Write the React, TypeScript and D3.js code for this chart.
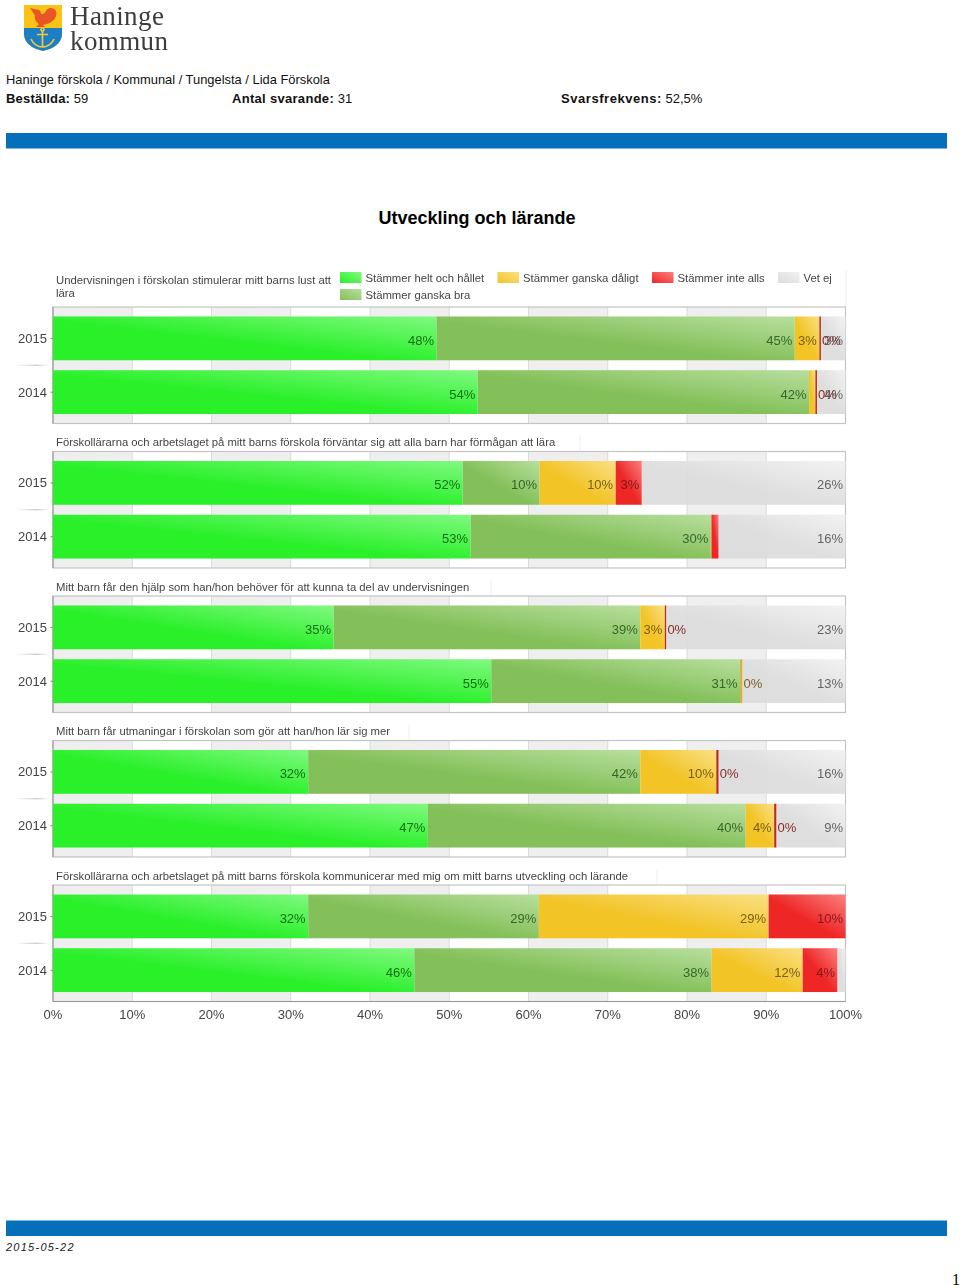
import React from "react";
import * as d3 from "d3";

const years = ["2015", "2014"];

const questions = [
  ["Undervisningen i förskolan stimulerar mitt barns lust att", "lära"],
  ["Förskollärarna och arbetslaget på mitt barns förskola förväntar sig att alla barn har förmågan att lära"],
  ["Mitt barn får den hjälp som han/hon behöver för att kunna ta del av undervisningen"],
  ["Mitt barn får utmaningar i förskolan som gör att han/hon lär sig mer"],
  ["Förskollärarna och arbetslaget på mitt barns förskola kommunicerar med mig om mitt barns utveckling och lärande"],
];

const seriesNames = ["Stämmer helt och hållet", "Stämmer ganska bra", "Stämmer ganska dåligt", "Stämmer inte alls", "Vet ej"];

// one value per row: question 1 2015, question 1 2014, question 2 2015, ...
const heltOchHallet = [48.4, 53.6, 51.7, 52.7, 35.4, 55.3, 32.2, 47.3, 32.2, 45.6];
const ganskaBra = [45.2, 41.8, 9.7, 30.3, 38.7, 31.4, 41.9, 40.1, 29.1, 37.5];
const ganskaDaligt = [3.1, 0.8, 9.6, 0.1, 3.1, 0.3, 9.6, 3.6, 29.0, 11.5];
const inteAlls = [0.2, 0.2, 3.3, 0.9, 0.2, 0, 0.3, 0.3, 9.7, 4.4];
const vetEj = [3.1, 3.6, 25.7, 16.0, 22.6, 13.0, 16.0, 8.7, 0, 1.0];

// segments that carry no value label: "row:series"
const unlabelled = ["1:2", "3:2", "3:3", "5:3", "8:4", "9:4"];

const xTicks = d3.range(0, 101, 10);

const colors = [
  { base: "#2af02a", light: "#80f980", thin: "#2af02a", text: "#0c5f0c" },
  { base: "#84c05a", light: "#b8df9e", thin: "#84c05a", text: "#2c5a20" },
  { base: "#f2c428", light: "#fae084", thin: "#dcae30", text: "#6e5210" },
  { base: "#ee2626", light: "#fb7f7f", thin: "#bc2c1c", text: "#7a1414" },
  { base: "#dcdcdc", light: "#f1f1f1", thin: "#dcdcdc", text: "#555555" },
];

const legendItems = [
  { series: 0, x: 340, y: 272 },
  { series: 1, x: 340, y: 289 },
  { series: 2, x: 497.5, y: 272 },
  { series: 3, x: 652, y: 272 },
  { series: 4, x: 778, y: 272 },
];

const titleEnds = [846, 580, 491, 409, 657];

const textCol = "#444444";
const sans = "'Liberation Sans', Arial, sans-serif";

const rows = heltOchHallet.map((_, i) => ({
  s0: heltOchHallet[i],
  s1: ganskaBra[i],
  s2: ganskaDaligt[i],
  s3: inteAlls[i],
  s4: vetEj[i],
}));
const stacked = d3.stack<any>().keys(["s0", "s1", "s2", "s3", "s4"])(rows);

const x = d3.scaleLinear().domain([0, 100]).range([53, 845.5]);
const panelY = d3
  .scaleBand<number>()
  .domain(d3.range(questions.length))
  .range([307, 1001.5])
  .paddingInner(0.194);
const yearY = d3
  .scaleBand<string>()
  .domain(years)
  .range([0, panelY.bandwidth()])
  .paddingInner(0.185)
  .paddingOuter(0.176);

const Logo = () => (
  <g filter="url(#soft)">
    <path d="M24 5H62V34C62 44 52 49 43 51C34 49 24 44 24 34Z" fill="#fbc312" />
    <path d="M24 28H62V34C62 44 52 49 43 51C34 49 24 44 24 34Z" fill="#1f7fc4" />
    <path
      d="M30 8L36 9.5C39 9 41 11 41 13.5C43 15 45 13 47 9.5C49 7 54 7.5 56 11C57.5 15 55 20 51 22C48 24 45 24 43 25L45 27H36L39 24C36 22 34 19 35 15.5Z"
      fill="#ea5526"
    />
    <g stroke="#f2c83a" strokeWidth={1.7} fill="none">
      <circle cx={42.5} cy={29.5} r={1.5} />
      <path d="M42.5 31V47M37 34.5H48M31 39C33 44 38 47 42.5 47C47 47 52 44 54 39" />
    </g>
    <text fontFamily="'Liberation Serif', serif" fontSize={27} fill="#3d3d3d" letterSpacing={0.4}>
      <tspan x={70} y={25}>Haninge</tspan>
      <tspan x={70} y={49.5}>kommun</tspan>
    </text>
  </g>
);

const Header = () => (
  <g fontFamily={sans} fontSize={13} fill="#111">
    <text x={6} y={84} fontSize={12.9}>Haninge förskola / Kommunal / Tungelsta / Lida Förskola</text>
    <text x={6} y={103}>
      <tspan fontWeight="bold" letterSpacing={0.2}>Beställda:</tspan> 59
    </text>
    <text x={232} y={103}>
      <tspan fontWeight="bold" letterSpacing={0.3}>Antal svarande:</tspan> 31
    </text>
    <text x={561} y={103}>
      <tspan fontWeight="bold" letterSpacing={0.55}>Svarsfrekvens:</tspan> 52,5%
    </text>
    <rect x={6} y={133} width={941} height={15.5} fill="#0570b9" />
    <text x={477} y={224} textAnchor="middle" fontSize={18} fontWeight="bold" fill="#000">
      Utveckling och lärande
    </text>
    <rect x={6} y={1220.5} width={941} height={15.5} fill="#0570b9" />
    <text x={6} y={1251} fontSize={11} fontStyle="italic" letterSpacing={1.25} fill="#222">
      2015-05-22
    </text>
    <text x={952} y={1285} fontFamily="'Liberation Serif', serif" fontSize={16} fill="#000">
      1
    </text>
  </g>
);

const Panel = ({ index }: { index: number }) => {
  const top = panelY(index)!;
  const h = panelY.bandwidth();
  return (
    <g>
      {xTicks.slice(0, -1).map((t, i) =>
        i % 2 === 0 ? (
          <rect key={t} x={x(t)} y={top} width={x(t + 10) - x(t)} height={h} fill="#efefef" />
        ) : null
      )}
      {xTicks.map((t) => (
        <line key={t} x1={x(t)} x2={x(t)} y1={top} y2={top + h} stroke="#d4d4d4" strokeWidth={0.8} />
      ))}
      <rect x={x(0)} y={top} width={x(100) - x(0)} height={h} fill="none" stroke="#c4c4c4" strokeWidth={1.2} />
      <line x1={x(0)} x2={x(0)} y1={top} y2={top + h} stroke="#a9a9a9" strokeWidth={1.4} />
      {years.map((year, j) => {
        const row = index * 2 + j;
        const by = top + yearY(year)!;
        const bh = yearY.bandwidth();
        return (
          <g key={year}>
            <text x={47} y={by + 26.5} textAnchor="end" fontSize={13} fill={textCol}>
              {year}
            </text>
            <line x1={50.5} x2={53} y1={by + 22} y2={by + 22} stroke="#888" />
            {stacked.map((layer, s) => {
              const [a, b] = layer[row];
              const w = x(b) - x(a);
              return b > a ? (
                <rect
                  key={s}
                  x={x(a)}
                  y={by}
                  width={w}
                  height={bh}
                  fill={w < 4 ? colors[s].thin : `url(#seg${s})`}
                  fillOpacity={s === 4 ? 0.93 : 1}
                />
              ) : null;
            })}
            {stacked.map((layer, s) => {
              const [a, b] = layer[row];
              if (unlabelled.includes(`${row}:${s}`)) return null;
              const w = x(b) - x(a);
              const narrow = w < 22;
              return (
                <text
                  key={s}
                  x={narrow ? x(b) + 1 : x(b) - 2.5}
                  y={by + bh / 2 + 6.5}
                  textAnchor={narrow ? "start" : "end"}
                  fontSize={13}
                  fill={colors[s].text}
                  fillOpacity={0.9}
                >
                  {`${Math.round(+(b - a).toFixed(1))}%`}
                </text>
              );
            })}
          </g>
        );
      })}
      {/* faint mark the source image has between the two years */}
      <rect x={15} y={top + h / 2 - 0.5} width={34} height={1} fill="url(#yearMark)" />
    </g>
  );
};

export default function App() {
  const lastBottom = panelY(questions.length - 1)! + panelY.bandwidth();
  return (
    <svg
      width={960}
      height={1288}
      style={{ position: "absolute", left: 0, top: 0, display: "block" }}
      fontFamily={sans}
    >
      <defs>
        <filter id="soft" x="-5%" y="-5%" width="110%" height="110%">
          <feGaussianBlur stdDeviation={0.35} />
        </filter>
        <linearGradient id="yearMark">
          <stop offset="0%" stopColor="#ffffff" />
          <stop offset="65%" stopColor="#bbbbbb" />
          <stop offset="100%" stopColor="#ffffff" />
        </linearGradient>
        {colors.map((c, i) => (
          <linearGradient key={i} id={`seg${i}`} x1={0} y1={1} x2={1} y2={0}>
            <stop offset="0%" stopColor={c.base} />
            <stop offset="45%" stopColor={c.base} />
            <stop offset="100%" stopColor={c.light} />
          </linearGradient>
        ))}
        {colors.map((c, i) => (
          <linearGradient key={i} id={`leg${i}`} x1={0} y1={1} x2={1} y2={0}>
            <stop offset="0%" stopColor={c.base} />
            <stop offset="100%" stopColor={c.light} />
          </linearGradient>
        ))}
      </defs>
      <Logo />
      <Header />

      <g filter="url(#soft)">
        {questions.map((lines, q) => {
          const top = panelY(q)!;
          return (
            <g key={q}>
              {lines.map((line, l) => (
                <text
                  key={l}
                  x={56}
                  y={top - (q === 0 ? 10 : 5.5) - (lines.length - 1 - l) * 13}
                  fontSize={11.3}
                  fill={textCol}
                >
                  {line}
                </text>
              ))}
              <line
                x1={titleEnds[q]}
                x2={titleEnds[q]}
                y1={q === 0 ? 270 : top - 16}
                y2={top - 1}
                stroke="#eeeeee"
              />
            </g>
          );
        })}

        {legendItems.map((d) => (
          <g key={d.series}>
            <rect x={d.x} y={d.y} width={21.5} height={11} fill={`url(#leg${d.series})`} />
            <text x={d.x + 25.5} y={d.y + 10} fontSize={11.3} fill={textCol}>
              {seriesNames[d.series]}
            </text>
          </g>
        ))}

        {questions.map((_, q) => (
          <Panel key={q} index={q} />
        ))}

        <line x1={x(0)} x2={x(100)} y1={lastBottom} y2={lastBottom} stroke="#999999" strokeWidth={1.2} />
        {xTicks.map((t) => (
          <text key={t} x={x(t)} y={1018.5} textAnchor="middle" fontSize={13} fill={textCol}>
            {`${t}%`}
          </text>
        ))}
      </g>
    </svg>
  );
}
